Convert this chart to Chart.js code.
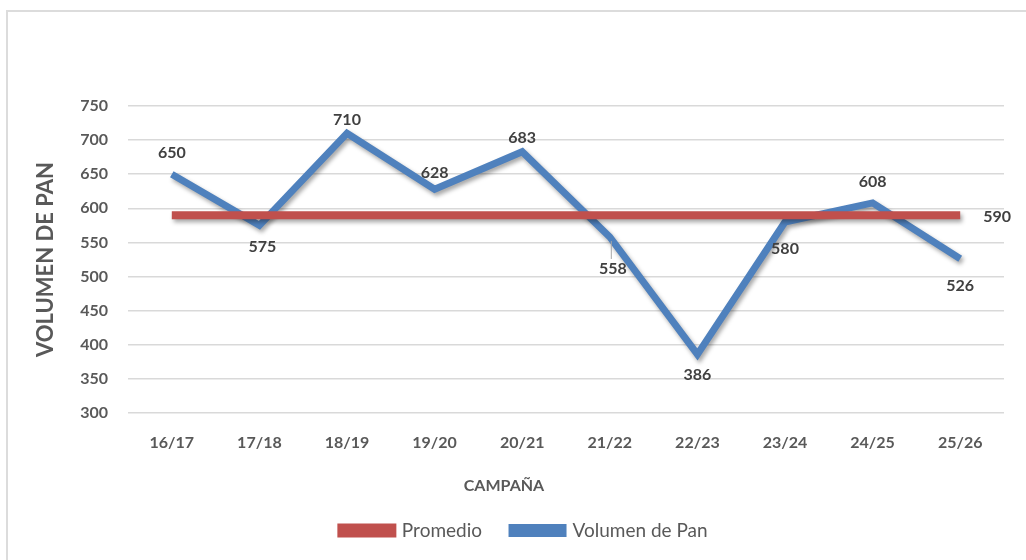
<!DOCTYPE html>
<html>
<head>
<meta charset="utf-8">
<script src="https://cdn.jsdelivr.net/npm/chart.js@4.4.1/dist/chart.umd.min.js"></script>
<style>
  html, body { margin: 0; padding: 0; background: #ffffff; }
  #wrap { position: relative; width: 1026px; height: 560px; overflow: hidden; }
  #frame { position: absolute; left: 6px; top: 10px; width: 1100px; height: 600px;
           border-left: 2px solid #dcdcdc; border-top: 2px solid #dcdcdc; }
  #c { position: absolute; left: 0; top: 0; }
</style>
</head>
<body>
<div id="wrap">
  <div id="frame"></div>
  <canvas id="c" width="1026" height="560"></canvas>
</div>
<script>
// Campañas (eje X)
const campanas = ['16/17', '17/18', '18/19', '19/20', '20/21', '21/22', '22/23', '23/24', '24/25', '25/26'];
// Volumen de pan por campaña
const volumenPan = [650, 575, 710, 628, 683, 558, 386, 580, 608, 526];
// Promedio de las campañas
const promedio = [590, 590, 590, 590, 590, 590, 590, 590, 590, 590];
// Eje Y
const yMin = 300;
const yMax = 750;
const yStep = 50;

// Placement of the value labels relative to each point [dx, dy]
const volLabelPlacement = [[0, -21], [3, 21], [0, -13], [0, -16], [0, -14], [3, 32], [0, 21], [0, 27], [0, -21], [0, 27]];
// Labels that keep a short leader line to their point
const volLeaderLines = [5];
const promLabelIndex = 9;
const promLabelPlacement = [37, 2];

const TEXT = '#595959';
const FONT = 'Lato, "Open Sans", sans-serif';

Chart.defaults.font.family = FONT;
Chart.defaults.color = TEXT;

// Soft drop shadow under both lines
const lineShadow = {
  id: 'lineShadow',
  beforeDatasetDraw(chart) {
    const ctx = chart.ctx;
    ctx.save();
    ctx.shadowColor = 'rgba(0,0,0,0.35)';
    ctx.shadowBlur = 4;
    ctx.shadowOffsetX = 2;
    ctx.shadowOffsetY = 3;
  },
  afterDatasetDraw(chart) {
    chart.ctx.restore();
  }
};

// Value labels next to the points
const valueLabels = {
  id: 'valueLabels',
  afterDatasetsDraw(chart) {
    const ctx = chart.ctx;
    ctx.save();
    const volMeta = chart.getDatasetMeta(1);
    // leader lines
    ctx.strokeStyle = '#a6a6a6';
    ctx.lineWidth = 1;
    volLeaderLines.forEach(i => {
      const pt = volMeta.data[i];
      const [dx, dy] = volLabelPlacement[i];
      ctx.beginPath();
      ctx.moveTo(pt.x + 1.5, pt.y + 4);
      ctx.lineTo(pt.x + 1.5, pt.y + dy - 10);
      ctx.stroke();
    });
    ctx.font = 'bold 16px ' + FONT;
    ctx.fillStyle = '#404040';
    ctx.textAlign = 'center';
    ctx.textBaseline = 'middle';
    volMeta.data.forEach((pt, i) => {
      const [dx, dy] = volLabelPlacement[i];
      ctx.fillText(String(volumenPan[i]), pt.x + dx, pt.y + dy);
    });
    const promMeta = chart.getDatasetMeta(0);
    const p = promMeta.data[promLabelIndex];
    ctx.fillText(String(promedio[promLabelIndex]), p.x + promLabelPlacement[0], p.y + promLabelPlacement[1]);
    ctx.restore();
  }
};

// Axis title under the category labels
const xTitle = {
  id: 'xTitle',
  afterDraw(chart) {
    const ctx = chart.ctx;
    ctx.save();
    ctx.font = 'bold 16px ' + FONT;
    ctx.fillStyle = TEXT;
    ctx.textAlign = 'center';
    ctx.textBaseline = 'middle';
    ctx.fillText('CAMPAÑA', chart.width / 2 - 9, chart.chartArea.bottom + 73);
    ctx.restore();
  }
};

new Chart(document.getElementById('c'), {
  type: 'line',
  data: {
    labels: campanas,
    datasets: [
      {
        label: 'Promedio',
        data: promedio,
        borderColor: '#C0504D',
        backgroundColor: '#C0504D',
        borderWidth: 8,
        borderCapStyle: 'butt',
        pointRadius: 0,
        tension: 0
      },
      {
        label: 'Volumen de Pan',
        data: volumenPan,
        borderColor: '#4F81BD',
        backgroundColor: '#4F81BD',
        borderWidth: 7,
        borderCapStyle: 'butt',
        borderJoinStyle: 'miter',
        pointRadius: 0,
        tension: 0
      }
    ]
  },
  options: {
    responsive: false,
    animation: false,
    layout: { padding: { left: 45, right: 22, top: 106, bottom: 10 } },
    plugins: {
      legend: {
        position: 'bottom',
        labels: {
          boxWidth: 51,
          boxHeight: 6,
          padding: 30,
          color: TEXT,
          font: { size: 19, family: FONT }
        }
      },
      tooltip: { enabled: false }
    },
    scales: {
      x: {
        offset: true,
        grid: { display: false, drawTicks: false },
        border: { display: false },
        ticks: { padding: 20, color: TEXT, font: { size: 16, weight: 'bold' } },
        afterFit(scale) { scale.height = 78; }
      },
      y: {
        min: yMin,
        max: yMax,
        grid: { color: '#d9d9d9', lineWidth: 1.5, drawTicks: false },
        border: { display: false },
        ticks: { stepSize: yStep, padding: 20, color: TEXT, font: { size: 16, weight: 'bold' } },
        title: {
          display: true,
          text: 'VOLUMEN DE PAN',
          color: TEXT,
          font: { size: 22, weight: 'bold' },
          padding: { top: -12, bottom: 0 }
        },
        afterFit(scale) { scale.width = 83; }
      }
    }
  },
  plugins: [lineShadow, valueLabels, xTitle]
});
</script>
</body>
</html>
